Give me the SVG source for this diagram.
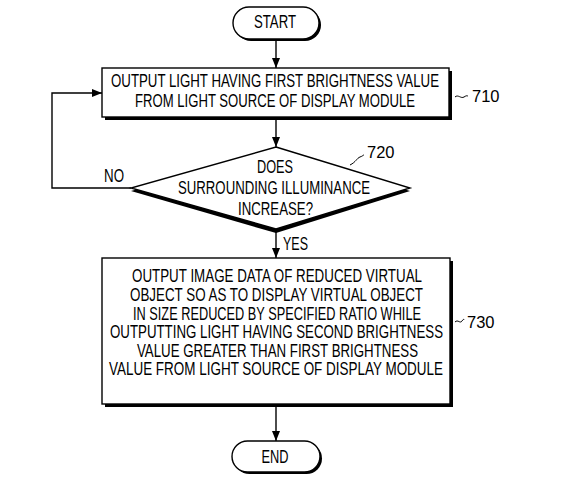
<svg xmlns="http://www.w3.org/2000/svg" width="579" height="489" viewBox="0 0 579 489">
<style>
.t{font-family:"Liberation Sans",Arial,sans-serif;font-size:18.5px;fill:#000;text-anchor:middle}
.l{font-family:"Liberation Sans",Arial,sans-serif;font-size:18.5px;fill:#000}
.n{font-family:"Liberation Sans",Arial,sans-serif;font-size:16.5px;fill:#000}
.b{fill:#fff;stroke:#000;stroke-width:1.4}
.s{fill:#000}
.c{fill:none;stroke:#000;stroke-width:1.4}
.ld{fill:none;stroke:#000;stroke-width:1}
</style>
<defs>
<marker id="ah" viewBox="0 0 10 8" refX="10" refY="4" markerWidth="10" markerHeight="8" markerUnits="userSpaceOnUse" orient="auto">
<path d="M0,0 L10,4 L0,8 z" fill="#000"/>
</marker>
</defs>
<rect width="579" height="489" fill="#fff"/>
<g id="connectors">
<line class="c" x1="276" y1="40" x2="276" y2="68" marker-end="url(#ah)"/>
<line class="c" x1="276" y1="118" x2="276" y2="147" marker-end="url(#ah)"/>
<line class="c" x1="276" y1="231" x2="276" y2="258" marker-end="url(#ah)"/>
<line class="c" x1="276" y1="406" x2="276" y2="441" marker-end="url(#ah)"/>
<polyline class="c" points="131,188 52,188 52,93 102,93" marker-end="url(#ah)"/>
<text class="l" x="104" y="182" textLength="20" lengthAdjust="spacingAndGlyphs">NO</text>
<text class="l" x="283" y="250" textLength="25" lengthAdjust="spacingAndGlyphs">YES</text>
</g>
<g id="start">
<rect class="s" x="235" y="9" width="86" height="32" rx="16"/>
<rect class="b" x="233" y="7" width="86" height="32" rx="16"/>
<text class="t" x="275" y="28" textLength="42" lengthAdjust="spacingAndGlyphs">START</text>
</g>
<g id="n710">
<rect class="s" x="105" y="71" width="347" height="49"/>
<rect class="b" x="102" y="68" width="347" height="49"/>
<text class="t" x="275" y="87" textLength="328" lengthAdjust="spacingAndGlyphs">OUTPUT LIGHT HAVING FIRST BRIGHTNESS VALUE</text>
<text class="t" x="275" y="107" textLength="280" lengthAdjust="spacingAndGlyphs">FROM LIGHT SOURCE OF DISPLAY MODULE</text>
<path class="ld" d="M455,97 C458,94 461,99 464,97 S467,96 468,96"/>
<text class="n" x="472" y="102">710</text>
</g>
<g id="n720">
<polygon class="s" points="276,150 410,191 276,233 131,191"/>
<polygon class="b" points="276,147 410,188 276,229 131,188"/>
<text class="t" x="275" y="173" textLength="36" lengthAdjust="spacingAndGlyphs">DOES</text>
<text class="t" x="274" y="194" textLength="192" lengthAdjust="spacingAndGlyphs">SURROUNDING ILLUMINANCE</text>
<text class="t" x="275.5" y="215" textLength="75" lengthAdjust="spacingAndGlyphs">INCREASE?</text>
<path class="ld" d="M350,165 C356,162 357,158 360,157 S363,155 364,155"/>
<text class="n" x="367" y="158">720</text>
</g>
<g id="n730">
<rect class="s" x="105" y="261" width="348" height="146"/>
<rect class="b" x="102" y="258" width="348" height="146"/>
<text class="t" x="277" y="282" textLength="290" lengthAdjust="spacingAndGlyphs">OUTPUT IMAGE DATA OF REDUCED VIRTUAL</text>
<text class="t" x="276.5" y="301" textLength="293" lengthAdjust="spacingAndGlyphs">OBJECT SO AS TO DISPLAY VIRTUAL OBJECT</text>
<text class="t" x="277" y="320" textLength="288" lengthAdjust="spacingAndGlyphs">IN SIZE REDUCED BY SPECIFIED RATIO WHILE</text>
<text class="t" x="276.5" y="338" textLength="333" lengthAdjust="spacingAndGlyphs">OUTPUTTING LIGHT HAVING SECOND BRIGHTNESS</text>
<text class="t" x="277.5" y="357" textLength="281" lengthAdjust="spacingAndGlyphs">VALUE GREATER THAN FIRST BRIGHTNESS</text>
<text class="t" x="276" y="375" textLength="334" lengthAdjust="spacingAndGlyphs">VALUE FROM LIGHT SOURCE OF DISPLAY MODULE</text>
<path class="ld" d="M455,322 C458,319 460,324 462,321 S464,320 464,320"/>
<text class="n" x="467" y="328">730</text>
</g>
<g id="end">
<rect class="s" x="234" y="443" width="88" height="31" rx="15.5"/>
<rect class="b" x="232" y="441" width="88" height="31" rx="15.5"/>
<text class="t" x="275" y="463" textLength="27" lengthAdjust="spacingAndGlyphs">END</text>
</g>
</svg>
